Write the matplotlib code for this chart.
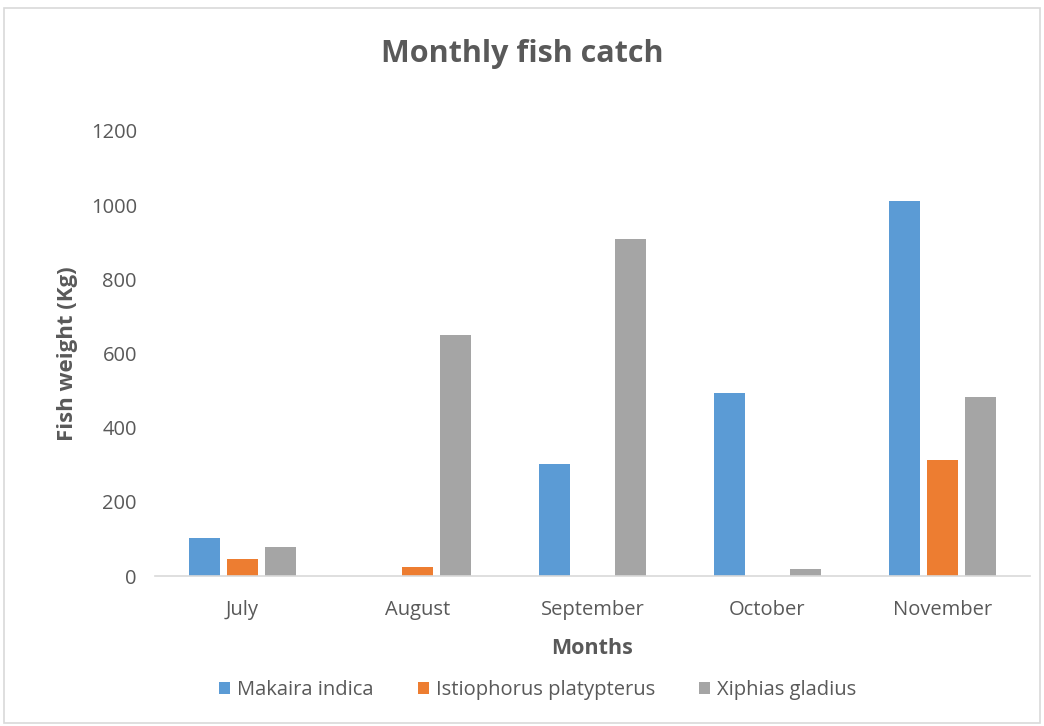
import numpy as np
import matplotlib
matplotlib.use("Agg")
import matplotlib.pyplot as plt
from matplotlib.patches import Rectangle

plt.rcParams["font.family"] = ["Open Sans", "DejaVu Sans"]

months = ["July", "August", "September", "October", "November"]
makaira = [102, 0, 302, 493, 1011]
istiophorus = [46, 24, 0, 0, 313]
xiphias = [78, 650, 909, 19, 483]

series = [
    ("Makaira indica", makaira, "#5b9bd5"),
    ("Istiophorus platypterus", istiophorus, "#ed7d31"),
    ("Xiphias gladius", xiphias, "#a5a5a5"),
]
TXT = "#595959"

fig = plt.figure(figsize=(10.44, 7.26), dpi=100)
# light chart-area border
fig.patches.append(Rectangle((0.004, 0.004), 0.992, 0.985, transform=fig.transFigure,
                             fill=False, edgecolor="#d9d9d9", lw=1.2))
ax = fig.add_axes([0.1485, 0.2066, 0.838, 0.613])

x = np.arange(len(months))
w, step = 0.177, 0.217
for i, (name, vals, col) in enumerate(series):
    ax.bar(x + (i - 1) * step, vals, w, color=col, label=name, zorder=2)

ax.set_xlim(-0.5, len(months) - 0.5)
ax.set_ylim(0, 1200)
ax.set_yticks(range(0, 1201, 200))
ax.set_xticks(x)
ax.set_xticklabels(months)
for s in ["top", "right", "left"]:
    ax.spines[s].set_visible(False)
ax.spines["bottom"].set_color("#d9d9d9")
ax.spines["bottom"].set_linewidth(1.2)
ax.tick_params(axis="both", length=0, labelsize=14.5, colors=TXT)
ax.tick_params(axis="y", pad=13)
ax.tick_params(axis="x", pad=17)

ax.set_xlabel("Months", fontsize=15.5, fontweight="bold", color=TXT, labelpad=13)
ax.set_ylabel("Fish weight (Kg)", fontsize=16, fontweight="bold", color=TXT, labelpad=9)
fig.text(0.5, 0.926, "Monthly fish catch", ha="center", va="center",
         fontsize=22, fontweight="bold", color=TXT)

leg = fig.legend(loc="center", bbox_to_anchor=(0.515, 0.05), ncol=3, frameon=False,
                 fontsize=14.5, handlelength=0.55, handleheight=0.55, columnspacing=2.2,
                 handletextpad=0.35)
for t in leg.get_texts():
    t.set_color(TXT)

fig.savefig("out.png", dpi=100)
